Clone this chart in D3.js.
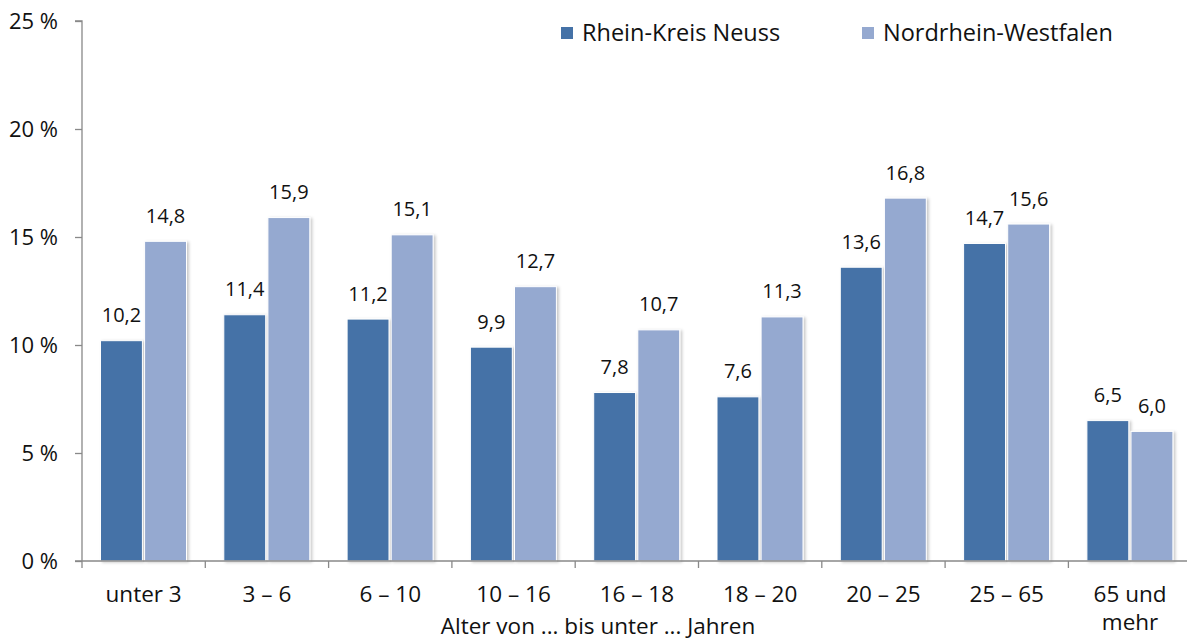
<!DOCTYPE html>
<html>
<head>
<meta charset="utf-8">
<script src="https://cdn.jsdelivr.net/npm/d3@7"></script>
<style>
  body { margin: 0; background: #fff; }
  text { font-family: "Open Sans", sans-serif; fill: #111; }
</style>
</head>
<body>
<div class="chart"></div>
<script>
// Chart data
var categories = ["unter 3", "3 –  6", "6 – 10", "10 – 16", "16 – 18", "18 – 20", "20 – 25", "25 – 65", "65 und mehr"];
var seriesNames = ["Rhein-Kreis Neuss", "Nordrhein-Westfalen"];
var neussValues = [10.2, 11.4, 11.2, 9.9, 7.8, 7.6, 13.6, 14.7, 6.5];
var nrwValues = [14.8, 15.9, 15.1, 12.7, 10.7, 11.3, 16.8, 15.6, 6.0];
var yTicks = [0, 5, 10, 15, 20, 25];

var svgWidth = 1187;
var svgHeight = 640;
var colors = ["#4572a7", "#95a9d0"];

var svg = d3.select(".chart")
  .append("svg")
  .attr("width", svgWidth)
  .attr("height", svgHeight);

// soft shadow for the bars
var defs = svg.append("defs");
var filter = defs.append("filter").attr("id", "shadow")
  .attr("x", "-20%").attr("y", "-5%").attr("width", "140%").attr("height", "110%");
filter.append("feDropShadow")
  .attr("dx", 2).attr("dy", 1).attr("stdDeviation", 1.6)
  .attr("flood-color", "#000").attr("flood-opacity", 0.22);

var plotLeft = 82, plotBottom = 561, plotTop = 21;
var step = 123.3;

var x0 = d3.scaleBand()
  .domain(categories)
  .range([plotLeft, plotLeft + step * categories.length]);

var x1 = d3.scaleBand()
  .domain(seriesNames)
  .range([18.5, 104.5])
  .paddingInner(0.05);

var y = d3.scaleLinear().domain([0, 25]).range([plotBottom, plotTop]);

var rows = categories.map(function(c, i) {
  return { cat: c, values: [neussValues[i], nrwValues[i]] };
});

// bars
var groups = svg.append("g").selectAll("g")
  .data(rows)
  .enter()
  .append("g")
  .attr("transform", function(d) { return "translate(" + x0(d.cat) + ",0)"; });

groups.selectAll("rect")
  .data(function(d) { return d.values.map(function(v, j) { return { s: seriesNames[j], v: v, j: j }; }); })
  .enter()
  .append("rect")
  .attr("x", function(d) { return x1(d.s); })
  .attr("y", function(d) { return y(d.v); })
  .attr("width", x1.bandwidth())
  .attr("height", function(d) { return plotBottom - y(d.v); })
  .attr("fill", function(d) { return colors[d.j]; })
  .attr("stroke", "#fff")
  .attr("stroke-width", 1)
  .attr("filter", "url(#shadow)");

// value labels
groups.selectAll("text")
  .data(function(d) { return d.values.map(function(v, j) { return { s: seriesNames[j], v: v }; }); })
  .enter()
  .append("text")
  .attr("x", function(d) { return x1(d.s) + x1.bandwidth() / 2; })
  .attr("y", function(d) { return y(d.v) - 18.5; })
  .attr("text-anchor", "middle")
  .style("font-size", "20px")
  .text(function(d) { return d.v.toFixed(1).replace(".", ","); });

// y axis
var yAxis = svg.append("g")
  .attr("transform", "translate(" + plotLeft + ",0)")
  .call(d3.axisLeft(y).tickValues(yTicks).tickSize(7).tickPadding(17)
    .tickFormat(function(d) { return d + " %"; }));
yAxis.selectAll("path, line").attr("stroke", "#898989").attr("stroke-width", 1.3);
yAxis.select(".domain").attr("d", "M-7," + plotTop + "H0V" + plotBottom);
yAxis.selectAll("text").style("font-size", "22px").style("font-family", "'Open Sans', sans-serif").attr("fill", "#111");

// x axis line and boundary ticks
var xAxisG = svg.append("g");
xAxisG.append("line")
  .attr("x1", plotLeft - 7).attr("x2", svgWidth)
  .attr("y1", plotBottom).attr("y2", plotBottom)
  .attr("stroke", "#898989").attr("stroke-width", 1.3);
xAxisG.selectAll(".bt")
  .data(categories)
  .enter()
  .append("line")
  .attr("x1", function(d) { return x0(d); })
  .attr("x2", function(d) { return x0(d); })
  .attr("y1", plotBottom).attr("y2", plotBottom + 7)
  .attr("stroke", "#898989").attr("stroke-width", 1.3);

// category labels
xAxisG.selectAll(".cl")
  .data(categories)
  .enter()
  .append("text")
  .attr("text-anchor", "middle")
  .style("font-size", "22.5px")
  .attr("x", function(d) { return x0(d) + x0.bandwidth() / 2; })
  .attr("y", 602)
  .each(function(d) {
    var parts = d === "65 und mehr" ? ["65 und", "mehr"] : [d];
    var t = d3.select(this);
    parts.forEach(function(p, k) {
      t.append("tspan")
        .attr("x", x0(d) + x0.bandwidth() / 2)
        .attr("dy", k === 0 ? 0 : 28)
        .text(p);
    });
  });

// x axis title
svg.append("text")
  .attr("x", 598)
  .attr("y", 634)
  .attr("text-anchor", "middle")
  .style("font-size", "22.5px")
  .text("Alter von ... bis unter ... Jahren");

// legend
var legend = svg.append("g");
var legendX = [561, 862];
seriesNames.forEach(function(name, i) {
  legend.append("rect")
    .attr("x", legendX[i]).attr("y", 27)
    .attr("width", 12).attr("height", 12)
    .attr("fill", colors[i]);
  legend.append("text")
    .attr("x", legendX[i] + 21).attr("y", 41)
    .style("font-size", "23.5px")
    .text(name);
});
</script>
</body>
</html>
